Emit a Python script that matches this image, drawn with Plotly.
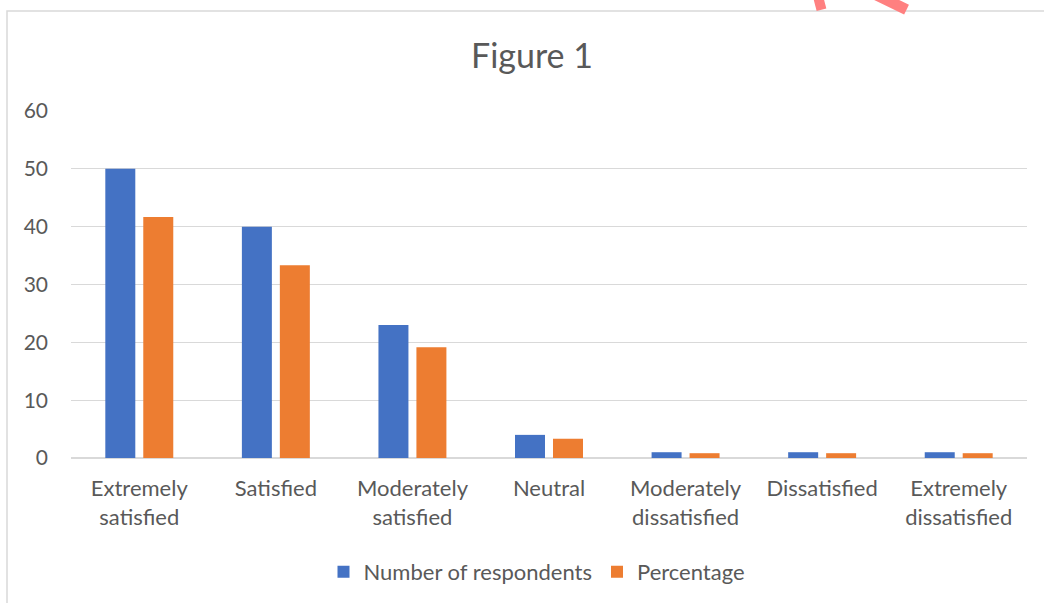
import plotly.graph_objects as go

categories = [
    "Extremely<br>satisfied",
    "Satisfied",
    "Moderately<br>satisfied",
    "Neutral",
    "Moderately<br>dissatisfied",
    "Dissatisfied",
    "Extremely<br>dissatisfied",
]
respondents = [50, 40, 23, 4, 1, 1, 1]
percentage = [41.67, 33.33, 19.17, 3.33, 0.83, 0.83, 0.83]

BLUE = "#4472C4"
ORANGE = "#ED7D31"
TEXT = "#595959"
FONT = "Lato, 'Open Sans', sans-serif"

fig = go.Figure()
fig.add_bar(x=categories, y=respondents, name="Number of respondents",
            marker_color=BLUE, marker_line_width=0)
fig.add_bar(x=categories, y=percentage, name="Percentage",
            marker_color=ORANGE, marker_line_width=0)

fig.update_layout(
    width=1044, height=603,
    margin=dict(l=71, r=17, t=111, b=145),
    paper_bgcolor="white", plot_bgcolor="white",
    barmode="group", bargap=0.444, bargroupgap=0.21,
    font=dict(family=FONT, size=22, color=TEXT),
    title=dict(text="Figure 1", x=532 / 1044, xref="container", xanchor="center",
               y=1 - 56 / 603, yref="container", yanchor="middle",
               font=dict(size=34, color=TEXT)),
    showlegend=True,
    legend=dict(orientation="h", x=537 / 1044, xanchor="center", xref="container",
                y=1 - 572 / 603, yanchor="middle", yref="container",
                font=dict(size=22, color=TEXT), tracegroupgap=0),
)

fig.update_yaxes(range=[0, 60], dtick=10, showgrid=True, gridcolor="#D9D9D9",
                 gridwidth=1, zeroline=True, zerolinecolor="#D9D9D9",
                 showline=False, ticks="", ticklabelstandoff=22,
                 tickfont=dict(size=21, color=TEXT))
fig.update_xaxes(showline=False, ticks="", showgrid=False,
                 tickfont=dict(size=22, color=TEXT), ticklabelstandoff=15)

# outer chart frame
fig.add_shape(type="rect", xref="paper", yref="paper",
              x0=-64 / 956, x1=1.1, y0=-0.5, y1=1 + 100 / 347,
              line=dict(color="#D9D9D9", width=1.5), fillcolor="rgba(0,0,0,0)",
              layer="below")

# stamp fragment at the top edge
fig.add_shape(type="path", xref="paper", yref="paper",
              path="M 0.781 1.335 L 0.785 1.292",
              line=dict(color="#FF8080", width=10))
fig.add_shape(type="path", xref="paper", yref="paper",
              path="M 0.842 1.335 L 0.874 1.292",
              line=dict(color="#FF8080", width=11))

fig.write_html("out.html")
